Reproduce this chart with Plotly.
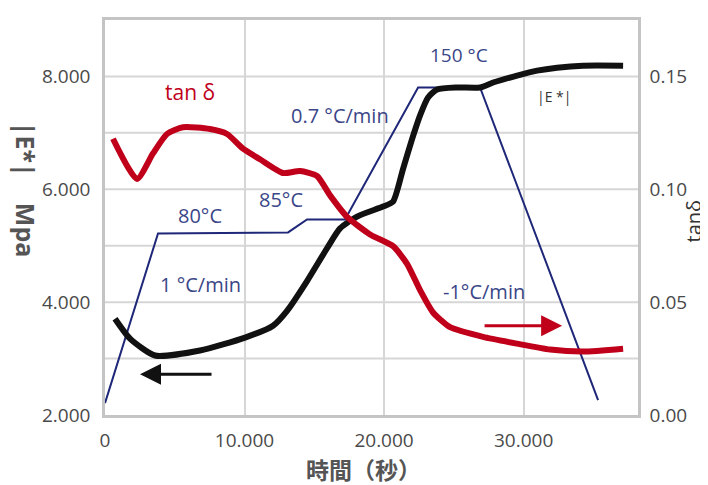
import plotly.graph_objects as go

# ---- data ----
# temperature programme (schematic, drawn against left axis)
temp_time = [0, 3800, 13120, 14480, 17200, 22440, 26880, 35340]
temp_level = [2211, 5218, 5236, 5465, 5465, 7804, 7804, 2264]

# |E*| (MPa)
e_time = [717, 1792, 3584, 6810, 10036, 12043, 13047, 14480, 15914, 16846, 18065,
          19928, 20645, 21362, 22007, 22581, 23154, 23799, 25233, 26882, 27814,
          29534, 30968, 32401, 34265, 37133]
e_mod = [3706, 3354, 3055, 3143, 3372, 3583, 3847, 4374, 4955, 5306, 5517,
         5693, 5781, 6362, 6889, 7311, 7628, 7769, 7804, 7804, 7892,
         8015, 8103, 8155, 8191, 8191]

# tan delta
td_time = [573, 2294, 3441, 4444, 5591, 7527, 8746, 9892, 11111, 12760, 13978,
           15197, 16129, 17348, 18996, 20645, 21649, 22581, 23513, 24731, 27097,
           29534, 31900, 34265, 37133]
tan_d = [0.1224, 0.1046, 0.1159, 0.1245, 0.1275, 0.1267, 0.1245, 0.1180, 0.1133,
         0.1072, 0.1081, 0.1059, 0.0973, 0.0878, 0.0800, 0.0748, 0.0670, 0.0553,
         0.0454, 0.0389, 0.0346, 0.0316, 0.0290, 0.0281, 0.0294]

x_ticks = [0, 10000, 20000, 30000]
x_ticktext = ["0", "10.000", "20.000", "30.000"]
y_ticks = [2000, 4000, 6000, 8000]
y_ticktext = ["2.000", "4.000", "6.000", "8.000"]
y2_ticks = [0, 0.05, 0.10, 0.15]
y2_ticktext = ["0.00", "0.05", "0.10", "0.15"]

NAVY = "#1f2778"
NAVY_TXT = "#3a4688"
RED = "#c0001a"
BLACK = "#111111"
GRAY = "#4a4a4a"
GRID = "#d6d6d6"
FONT = "Open Sans"

OFF = 8  # page body margin
W, H = 708 - OFF, 485 - OFF
# desired plot box in screenshot pixels
SL, SR, ST, SB = 105, 638, 17, 415
L, T = SL - OFF, ST - OFF
R, B = W - (SR - OFF), H - (SB - OFF)
pw, ph = W - L - R, H - T - B

def paper(px, py):
    return (px - OFF - L) / pw, (H - B - (py - OFF)) / ph

fig = go.Figure()
fig.add_trace(go.Scatter(x=temp_time, y=temp_level, mode="lines",
                         line=dict(color=NAVY, width=2), showlegend=False, hoverinfo="skip"))
fig.add_trace(go.Scatter(x=e_time, y=e_mod, mode="lines",
                         line=dict(color=BLACK, width=6, shape="spline", smoothing=0.6),
                         showlegend=False))
fig.add_trace(go.Scatter(x=td_time, y=tan_d, mode="lines", yaxis="y2",
                         line=dict(color=RED, width=6, shape="spline", smoothing=0.6),
                         showlegend=False))

ann = []
def label(text, x, y, color, size=20):
    ann.append(dict(text=text, x=x, y=y, xref="x", yref="y", showarrow=False,
                    font=dict(family=FONT, size=size, color=color)))

label("tan δ", 6093, 7720, RED, 21)
label("0.7 °C/min", 16846, 7311, NAVY_TXT)
label("85°C", 12616, 5816, NAVY_TXT)
label("80°C", 6810, 5535, NAVY_TXT)
label("1 °C/min", 6810, 4304, NAVY_TXT)
label("150 °C", 25376, 8384, NAVY_TXT, 19)
label("|E *|", 32186, 7650, "#333333", 14)
label("-1°C/min", 27168, 4181, NAVY_TXT)

# arrows
ann.append(dict(x=2509, y=2721, ax=7742, ay=2721, xref="x", yref="y", axref="x", ayref="y",
                showarrow=True, arrowhead=2, arrowsize=1.4, arrowwidth=3, arrowcolor=BLACK, text=""))
ann.append(dict(x=32760, y=3583, ax=27097, ay=3583, xref="x", yref="y", axref="x", ayref="y",
                showarrow=True, arrowhead=2, arrowsize=1.4, arrowwidth=3, arrowcolor=RED, text=""))

# axis titles (placed by screenshot pixels)
def title(text, px, py, angle, size, color, family=FONT):
    x, y = paper(px, py)
    ann.append(dict(text=text, x=x, y=y, xref="paper", yref="paper", xanchor="center",
                    yanchor="middle", showarrow=False, textangle=angle,
                    font=dict(family=family, size=size, color=color)))

title("<b>|E*|    Mpa</b>", 26, 188, 90, 25, "#555555")
title("tanδ", 693, 220, -90, 20, "#333333")
title("<b>時間（秒）</b>", 363, 469, 0, 23, "#555555", "Noto Sans CJK JP")

tick_font = dict(family=FONT, size=19, color=GRAY)
fig.update_layout(
    width=W, height=H,
    margin=dict(l=L, r=R, t=T, b=B),
    paper_bgcolor="white", plot_bgcolor="white",
    font=dict(family=FONT, size=15, color=GRAY),
    xaxis=dict(range=[0, 38200], tickvals=x_ticks, ticktext=x_ticktext,
               showgrid=True, gridcolor=GRID, gridwidth=2, zeroline=False,
               showline=True, linecolor="#c4c4c4", linewidth=2.5, mirror=True,
               ticks="outside", ticklen=6, tickcolor="rgba(0,0,0,0)",
               tickfont=tick_font),
    yaxis=dict(range=[2000, 9000], tickvals=y_ticks, ticktext=y_ticktext,
               showgrid=False, zeroline=False,
               showline=True, linecolor="#c4c4c4", linewidth=2.5,
               ticks="outside", ticklen=8, tickcolor="rgba(0,0,0,0)",
               tickfont=tick_font),
    yaxis2=dict(range=[0, 0.175], tickvals=y2_ticks, ticktext=y2_ticktext,
                overlaying="y", side="right", showgrid=False, zeroline=False,
                showline=True, linecolor="#c4c4c4", linewidth=2.5,
                ticks="outside", ticklen=5, tickcolor="rgba(0,0,0,0)",
                tickfont=tick_font),
    annotations=ann,
    showlegend=False,
)

# horizontal gridlines every 1000 on left axis
for g in range(3000, 9000, 1000):
    fig.add_shape(type="line", xref="paper", yref="y", x0=0, x1=1, y0=g, y1=g,
                  line=dict(color=GRID, width=2), layer="below")

fig.write_html("out.html")
